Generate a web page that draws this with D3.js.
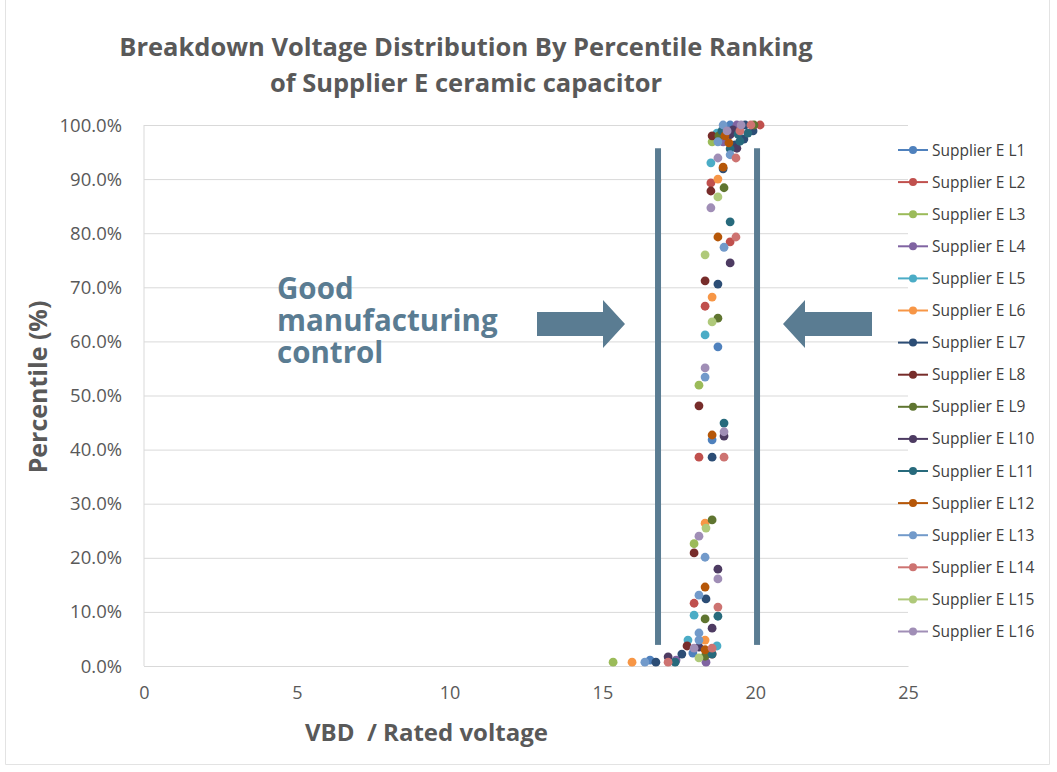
<!DOCTYPE html>
<html>
<head>
<meta charset="utf-8">
<script src="https://cdn.jsdelivr.net/npm/d3@7"></script>
<style>
  body { margin: 0; background: #fff; }
  text { font-family: "Open Sans", sans-serif; }
</style>
</head>
<body>
<svg width="1057" height="772"></svg>
<script>
// series names and colours (Excel 2010 palette)
const seriesNames = ['Supplier E L1','Supplier E L2','Supplier E L3','Supplier E L4','Supplier E L5','Supplier E L6',
  'Supplier E L7','Supplier E L8','Supplier E L9','Supplier E L10','Supplier E L11','Supplier E L12',
  'Supplier E L13','Supplier E L14','Supplier E L15','Supplier E L16'];
const seriesColors = ['#4F81BD','#C0504D','#9BBB59','#8064A2','#4BACC6','#F79646',
  '#2C4D75','#772C2A','#5F7530','#4D3B62','#276A7C','#B65708',
  '#729ACA','#CD7371','#AFC97A','#A08EB6'];

// [VBD / rated voltage, percentile %] per lot
const L1  = [[19.18,100],[18.78,59.0],[18.59,41.8],[17.96,2.4],[16.56,1.1]];
const L2  = [[20.16,100],[19.18,78.4],[18.55,89.3],[18.36,66.5],[18.16,38.6],[18.0,11.6],[18.59,2.2]];
const L3  = [[18.59,96.9],[18.16,51.9],[18.0,22.6],[15.35,0.7]];
const L4  = [[19.40,100],[18.95,96.9],[17.41,1.1],[18.39,0.7]];
const L5  = [[18.75,98.5],[18.55,93.0],[18.36,61.2],[18.0,9.4],[17.80,4.8],[18.75,3.7]];
const L6  = [[18.78,90.0],[18.59,68.2],[18.36,26.4],[18.36,4.8],[15.97,0.7]];
const L7  = [[19.67,100],[19.93,98.9],[19.63,97.4],[19.34,96.3],[18.95,91.9],[18.78,70.6],[18.59,38.6],[18.39,12.4],[17.60,2.2],[16.75,0.7]];
const L8  = [[18.59,98.0],[18.55,87.8],[18.36,71.2],[18.16,48.1],[18.0,20.9],[17.77,3.7]];
const L9  = [[19.96,100],[18.81,98.0],[18.98,88.4],[18.78,64.3],[18.59,27.0],[18.36,8.7],[18.36,1.8]];
const L10 = [[19.27,99.1],[19.18,98.2],[19.40,95.7],[19.18,74.5],[18.98,42.5],[18.78,17.9],[18.59,7.0],[18.16,3.5],[17.15,1.7]];
const L11 = [[18.91,98.9],[19.44,98.3],[19.76,98.5],[19.50,97.0],[19.18,95.6],[19.18,82.1],[18.98,44.9],[18.78,9.2],[18.59,2.2],[17.38,0.7]];
const L12 = [[19.01,98.0],[19.14,96.7],[18.95,92.2],[18.78,79.3],[18.59,42.7],[18.36,14.6],[18.36,3.0]];
const L13 = [[18.95,100],[18.78,96.9],[19.18,94.5],[18.98,77.4],[18.36,53.4],[18.36,20.1],[18.16,13.1],[18.16,6.1],[18.16,4.8],[16.39,0.7]];
const L14 = [[19.86,100],[19.50,98.9],[19.37,93.9],[19.37,79.3],[18.98,38.6],[18.78,10.9],[18.59,3.3],[17.15,0.7]];
const L15 = [[18.78,86.7],[18.36,76.0],[18.59,63.6],[18.39,25.5],[18.16,1.5]];
const L16 = [[19.54,100],[19.08,98.9],[18.78,93.9],[18.55,84.7],[18.36,55.1],[18.98,43.3],[18.16,24.0],[18.78,16.1],[18.0,3.3]];
const seriesData = [L1,L2,L3,L4,L5,L6,L7,L8,L9,L10,L11,L12,L13,L14,L15,L16];

const xTicks = [0,5,10,15,20,25];
const yTicks = [0,10,20,30,40,50,60,70,80,90,100];

const title = ['Breakdown Voltage Distribution By Percentile Ranking','of Supplier E ceramic capacitor'];
const xAxisLabel = 'VBD  / Rated voltage';
const yAxisLabel = 'Percentile (%)';
const noteLines = ['Good','manufacturing','control'];
const goodBand = [16.82, 20.06];   // the two bars marking the window

const svg = d3.select('svg');
const margin = {top: 125, right: 149, bottom: 106, left: 144};
const width = +svg.attr('width');
const height = +svg.attr('height');
const innerWidth = width - margin.left - margin.right;
const innerHeight = height - margin.top - margin.bottom;

const textGray = '#595959';
const noteColor = '#5a7c92';

// faint chart frame (left, bottom, right)
svg.append('path')
  .attr('d','M5.5,0 V764.5 H1049.5 V0')
  .attr('fill','none').attr('stroke','#e3e3e3');

const xScale = d3.scaleLinear().domain([0,25]).range([0,innerWidth]);
const yScale = d3.scaleLinear().domain([0,100]).range([innerHeight,0]);

const g = svg.append('g').attr('transform',`translate(${margin.left},${margin.top})`);

// gridlines + y axis
const yAxisG = g.append('g')
  .call(d3.axisLeft(yScale).tickValues(yTicks).tickSize(-innerWidth).tickPadding(22)
    .tickFormat(d => d3.format('.1f')(d) + '%'));
yAxisG.select('.domain').remove();
yAxisG.selectAll('.tick line').attr('stroke','#d9d9d9');
yAxisG.selectAll('.tick text').attr('fill',textGray).style('font-size','18.5px')
  .attr('dy',null).attr('y',6);

// left axis line
g.append('line').attr('x1',0).attr('x2',0).attr('y1',0).attr('y2',innerHeight)
  .attr('stroke','#d9d9d9');

const xAxisG = g.append('g').attr('transform',`translate(0,${innerHeight})`)
  .call(d3.axisBottom(xScale).tickValues(xTicks).tickSize(0).tickPadding(18));
xAxisG.select('.domain').attr('stroke','#d9d9d9');
xAxisG.selectAll('.tick text').attr('fill',textGray).style('font-size','18px')
  .attr('dy',null).attr('y',33);

// axis titles
svg.append('text')
  .attr('x',305).attr('y',741)
  .attr('fill',textGray).style('font-size','24px').style('font-weight','bold')
  .style('white-space','pre')
  .text(xAxisLabel);

svg.append('text')
  .attr('transform','translate(47,387) rotate(-90)')
  .attr('text-anchor','middle')
  .attr('fill',textGray).style('font-size','25px').style('font-weight','bold')
  .text(yAxisLabel);

// chart title
svg.selectAll('.title').data(title).enter().append('text')
  .attr('class','title')
  .attr('x',466).attr('y',(d,i) => 56 + i*36)
  .attr('text-anchor','middle')
  .attr('fill',textGray).style('font-size','25.5px').style('font-weight','bold')
  .text(d => d);

// manufacturing window bars
g.selectAll('.band').data(goodBand).enter().append('rect')
  .attr('class','band')
  .attr('x',d => xScale(d) - 3).attr('width',6)
  .attr('y',yScale(95.7)).attr('height',yScale(3.9) - yScale(95.7))
  .attr('fill',noteColor);

// arrows
const arrowPath = (tipX, baseX, tailX, cy) => {
  const sh = 12, hh = 24;
  return `M${tailX},${cy-sh} L${baseX},${cy-sh} L${baseX},${cy-hh} L${tipX},${cy} L${baseX},${cy+hh} L${baseX},${cy+sh} L${tailX},${cy+sh} Z`;
};
svg.append('path').attr('d',arrowPath(625,603,537,324)).attr('fill',noteColor);
svg.append('path').attr('d',arrowPath(783,805,872,324)).attr('fill',noteColor);

// annotation text
svg.selectAll('.note').data(noteLines).enter().append('text')
  .attr('class','note')
  .attr('x',277).attr('y',(d,i) => 299 + i*32)
  .attr('fill',noteColor).style('font-size','29.5px').style('font-weight','bold')
  .text(d => d);

// points
seriesData.forEach((pts,i) => {
  g.append('g').selectAll('circle').data(pts).enter().append('circle')
    .attr('cx',d => xScale(d[0]))
    .attr('cy',d => yScale(d[1]))
    .attr('r',4.4)
    .attr('fill',seriesColors[i]);
});

// legend
const legend = svg.append('g').attr('transform','translate(898,150)');
const item = legend.selectAll('g').data(seriesNames).enter().append('g')
  .attr('transform',(d,i) => `translate(0,${i*32.1})`);
item.append('line').attr('x1',0).attr('x2',30).attr('y1',0).attr('y2',0)
  .attr('stroke',(d,i) => seriesColors[i]).attr('stroke-width',2);
item.append('circle').attr('cx',15).attr('r',4).attr('fill',(d,i) => seriesColors[i]);
item.append('text').attr('x',34).attr('y',5.5)
  .attr('fill','#404040').style('font-size','15.5px')
  .text(d => d);
</script>
</body>
</html>
